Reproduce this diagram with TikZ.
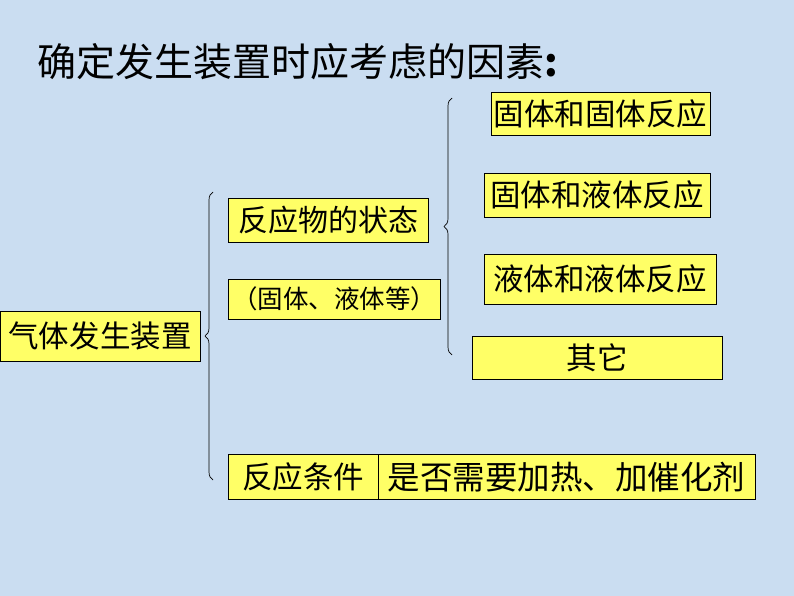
\documentclass[tikz,border=0pt]{standalone}
\usepackage{fontspec}
\setmainfont{Liberation Serif}
\newfontfamily\cjk{Noto Sans CJK SC}
\usetikzlibrary{decorations.pathreplacing}
\definecolor{bgblue}{HTML}{CADDF1}
\definecolor{boxyellow}{HTML}{FFFF66}
\tikzset{
  ybox/.style={draw=black, line width=0.8pt, fill=boxyellow, inner sep=0pt, font=\cjk\fontsize{30.5}{33}\selectfont, text=black},
  bracepath/.style={decorate, decoration={brace, amplitude=8pt, mirror}, line width=0.7pt},
}
\begin{document}
\begin{tikzpicture}[x=1pt,y=-1pt]
\fill[bgblue] (0,0) rectangle (794,596);
\useasboundingbox (0,0) rectangle (794,596);

\node[anchor=west, font=\cjk\fontsize{39}{42}\selectfont, inner sep=0pt] (title) at (37,62) {确定发生装置时应考虑的因素\textbf{:}};

\node[ybox, minimum width=200pt, minimum height=50pt] (root) at (100,336) {气体发生装置};

\node[ybox, minimum width=200pt, minimum height=44pt, font=\cjk\fontsize{30}{32}\selectfont] (state) at (328,220) {反应物的状态};
\node[ybox, minimum width=212pt, minimum height=40pt, font=\cjk\fontsize{25.5}{28}\selectfont] (eg) at (334,299) {（固体、液体等）};

\node[ybox, minimum width=150pt, minimum height=45pt] (cond) at (303,477) {反应条件};
\node[ybox, minimum width=377pt, minimum height=45pt, font=\cjk\fontsize{32.5}{35}\selectfont] (condtxt) at (566.5,477) {是否需要加热、加催化剂};

\node[ybox, minimum width=219pt, minimum height=43pt] (ss) at (600.5,113.5) {固体和固体反应};
\node[ybox, minimum width=226pt, minimum height=44pt] (sl) at (597,195) {固体和液体反应};
\node[ybox, minimum width=232pt, minimum height=50pt] (ll) at (600,279) {液体和液体反应};
\node[ybox, minimum width=250pt, minimum height=43pt] (other) at (597,357.5) {其它};

% braces
\coordinate (b1top) at (213,192);
\coordinate (b1bot) at (213,480);
\draw[bracepath] (b1top) -- (b1bot);
\coordinate (b2top) at (452,98);
\coordinate (b2bot) at (452,355);
\draw[bracepath] (b2top) -- (b2bot);
\end{tikzpicture}
\end{document}
